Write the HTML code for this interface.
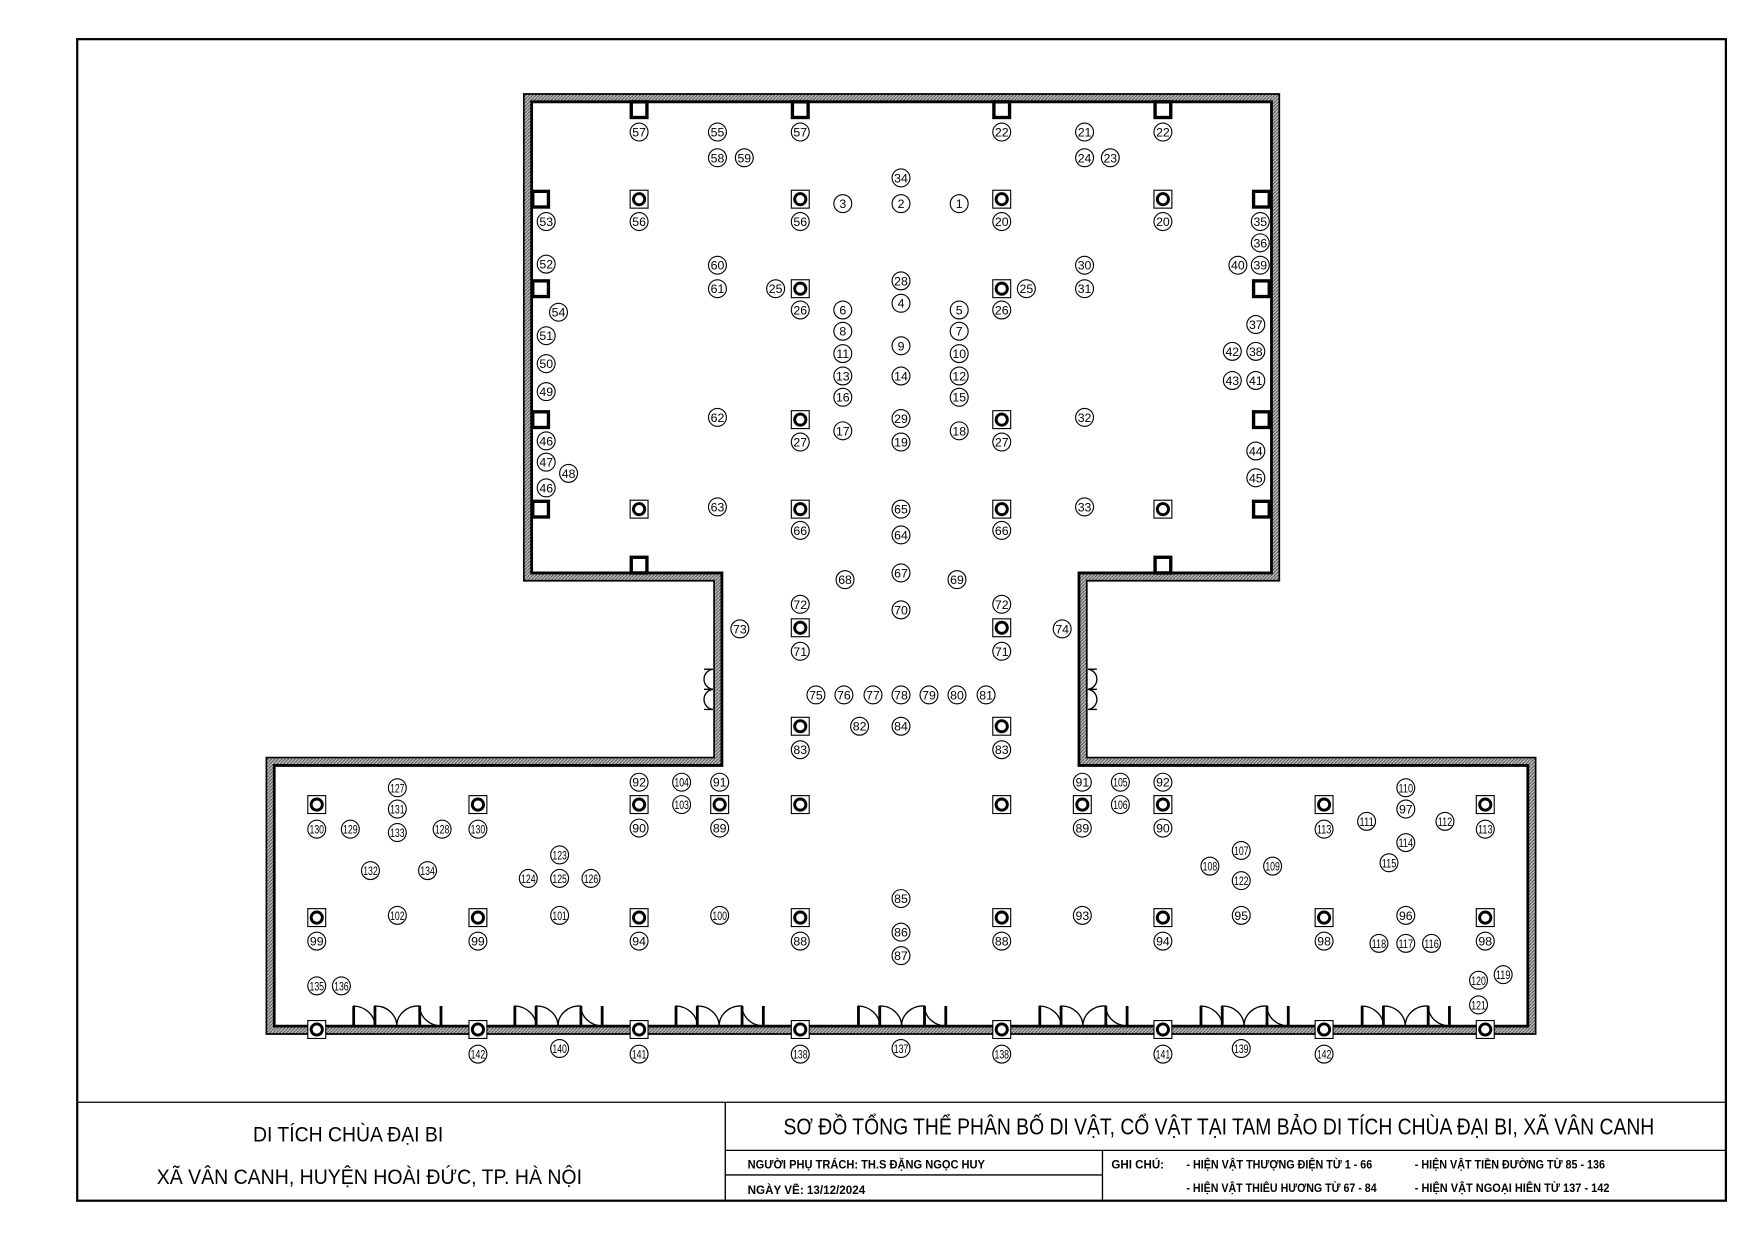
<!DOCTYPE html>
<html><head><meta charset="utf-8"><style>
html,body{margin:0;padding:0;background:#fff}
svg{display:block}
.l circle{fill:#fff;stroke:#000;stroke-width:1}
.l text{font-family:"Liberation Sans",sans-serif;font-size:11px;text-anchor:middle;fill:#000}
.t{font-family:"Liberation Sans",sans-serif;fill:#000}
</style></head><body>
<svg width="1755" height="1241" viewBox="0 0 1568 1109" preserveAspectRatio="none" xmlns="http://www.w3.org/2000/svg">
<defs>
<pattern id="h" width="3" height="3" patternUnits="userSpaceOnUse"><rect width="3" height="3" fill="#bbb"/><path d="M0 3L3 0" stroke="#444" stroke-width="0.8"/></pattern>
<g id="col"><rect x="-8" y="-8" width="16" height="16" fill="#fff" stroke="#000" stroke-width="1"/><circle r="5" fill="none" stroke="#000" stroke-width="2.6"/></g>
<g id="pil"><rect x="-7" y="-7" width="14" height="14" fill="#fff" stroke="#000" stroke-width="3"/></g>
<g id="door"><path d="M0 917V899 A20 18 0 0 1 19 917 M19 917V899 A19 18 0 0 1 38.5 917 A19 18 0 0 1 59 899V917 M59 899 A20 18 0 0 0 78 917 M78 899V917" fill="none" stroke="#000" stroke-width="1.2"/><path d="M0 899V917M19 899V917M59 899V917M78 899V917" stroke="#000" stroke-width="2.5"/></g>
</defs>
<rect x="0" y="0" width="1568" height="1109" fill="#fff"/>
<rect x="69" y="35" width="1473" height="1038" fill="none" stroke="#000" stroke-width="2"/>
<path d="M468 84H1143V519H971V677H1372V924H238V677H638V519H468Z" fill="url(#h)" stroke="#000" stroke-width="1.5"/>
<path d="M475 91H1136V512H964V684H1365V917H245V684H645V512H475Z" fill="#fff" stroke="#000" stroke-width="2.5"/>
<g fill="none" stroke="#000" stroke-width="1.2">
<path d="M629 598H637M629 616H637M629 634H637M637 598A9 9 0 0 0 629 607 M637 616A9 9 0 0 1 629 607 M637 616A9 9 0 0 0 629 625 M637 634A9 9 0 0 1 629 625"/>
<path d="M972 598H980M972 616H980M972 634H980M972 598A9 9 0 0 1 980 607 M972 616A9 9 0 0 0 980 607 M972 616A9 9 0 0 1 980 625 M972 634A9 9 0 0 0 980 625"/>
</g>
<use href="#door" x="316"/><use href="#door" x="460"/><use href="#door" x="604"/><use href="#door" x="767"/><use href="#door" x="929"/><use href="#door" x="1073"/><use href="#door" x="1217"/>
<use href="#pil" x="571" y="98"/><use href="#pil" x="715" y="98"/><use href="#pil" x="895" y="98"/><use href="#pil" x="1039" y="98"/>
<use href="#pil" x="483" y="178"/><use href="#pil" x="483" y="258"/><use href="#pil" x="483" y="375"/><use href="#pil" x="483" y="455"/>
<use href="#pil" x="1127" y="178"/><use href="#pil" x="1127" y="258"/><use href="#pil" x="1127" y="375"/><use href="#pil" x="1127" y="455"/>
<use href="#pil" x="571" y="505"/><use href="#pil" x="1039" y="505"/>
<use href="#col" x="571" y="178"/><use href="#col" x="715" y="178"/><use href="#col" x="895" y="178"/><use href="#col" x="1039" y="178"/>
<use href="#col" x="715" y="258"/><use href="#col" x="895" y="258"/><use href="#col" x="715" y="375"/><use href="#col" x="895" y="375"/>
<use href="#col" x="571" y="455"/><use href="#col" x="715" y="455"/><use href="#col" x="895" y="455"/><use href="#col" x="1039" y="455"/>
<use href="#col" x="715" y="561"/><use href="#col" x="895" y="561"/><use href="#col" x="715" y="649"/><use href="#col" x="895" y="649"/>
<use href="#col" x="283" y="719"/><use href="#col" x="427" y="719"/><use href="#col" x="571" y="719"/><use href="#col" x="643" y="719"/><use href="#col" x="715" y="719"/><use href="#col" x="895" y="719"/><use href="#col" x="967" y="719"/><use href="#col" x="1039" y="719"/><use href="#col" x="1183" y="719"/><use href="#col" x="1327" y="719"/>
<use href="#col" x="283" y="820"/><use href="#col" x="427" y="820"/><use href="#col" x="571" y="820"/><use href="#col" x="715" y="820"/><use href="#col" x="895" y="820"/><use href="#col" x="1039" y="820"/><use href="#col" x="1183" y="820"/><use href="#col" x="1327" y="820"/>
<use href="#col" x="283" y="920"/><use href="#col" x="427" y="920"/><use href="#col" x="571" y="920"/><use href="#col" x="715" y="920"/><use href="#col" x="895" y="920"/><use href="#col" x="1039" y="920"/><use href="#col" x="1183" y="920"/><use href="#col" x="1327" y="920"/>
<g class="l">
<g transform="translate(571,118)"><circle r="8"/><text y="4">57</text></g>
<g transform="translate(715,118)"><circle r="8"/><text y="4">57</text></g>
<g transform="translate(895,118)"><circle r="8"/><text y="4">22</text></g>
<g transform="translate(1039,118)"><circle r="8"/><text y="4">22</text></g>
<g transform="translate(641,118)"><circle r="8"/><text y="4">55</text></g>
<g transform="translate(641,141)"><circle r="8"/><text y="4">58</text></g>
<g transform="translate(665,141)"><circle r="8"/><text y="4">59</text></g>
<g transform="translate(969,118)"><circle r="8"/><text y="4">21</text></g>
<g transform="translate(969,141)"><circle r="8"/><text y="4">24</text></g>
<g transform="translate(992,141)"><circle r="8"/><text y="4">23</text></g>
<g transform="translate(805,159)"><circle r="8"/><text y="4">34</text></g>
<g transform="translate(753,182)"><circle r="8"/><text y="4">3</text></g>
<g transform="translate(805,182)"><circle r="8"/><text y="4">2</text></g>
<g transform="translate(857,182)"><circle r="8"/><text y="4">1</text></g>
<g transform="translate(488,198)"><circle r="8"/><text y="4">53</text></g>
<g transform="translate(571,198)"><circle r="8"/><text y="4">56</text></g>
<g transform="translate(715,198)"><circle r="8"/><text y="4">56</text></g>
<g transform="translate(895,198)"><circle r="8"/><text y="4">20</text></g>
<g transform="translate(1039,198)"><circle r="8"/><text y="4">20</text></g>
<g transform="translate(1126,198)"><circle r="8"/><text y="4">35</text></g>
<g transform="translate(1126,217)"><circle r="8"/><text y="4">36</text></g>
<g transform="translate(1106,237)"><circle r="8"/><text y="4">40</text></g>
<g transform="translate(1126,237)"><circle r="8"/><text y="4">39</text></g>
<g transform="translate(488,236)"><circle r="8"/><text y="4">52</text></g>
<g transform="translate(641,237)"><circle r="8"/><text y="4">60</text></g>
<g transform="translate(641,258)"><circle r="8"/><text y="4">61</text></g>
<g transform="translate(693,258)"><circle r="8"/><text y="4">25</text></g>
<g transform="translate(805,251)"><circle r="8"/><text y="4">28</text></g>
<g transform="translate(805,271)"><circle r="8"/><text y="4">4</text></g>
<g transform="translate(917,258)"><circle r="8"/><text y="4">25</text></g>
<g transform="translate(969,237)"><circle r="8"/><text y="4">30</text></g>
<g transform="translate(969,258)"><circle r="8"/><text y="4">31</text></g>
<g transform="translate(715,277)"><circle r="8"/><text y="4">26</text></g>
<g transform="translate(895,277)"><circle r="8"/><text y="4">26</text></g>
<g transform="translate(753,277)"><circle r="8"/><text y="4">6</text></g>
<g transform="translate(857,277)"><circle r="8"/><text y="4">5</text></g>
<g transform="translate(499,279)"><circle r="8"/><text y="4">54</text></g>
<g transform="translate(488,300)"><circle r="8"/><text y="4">51</text></g>
<g transform="translate(753,296)"><circle r="8"/><text y="4">8</text></g>
<g transform="translate(857,296)"><circle r="8"/><text y="4">7</text></g>
<g transform="translate(1122,290)"><circle r="8"/><text y="4">37</text></g>
<g transform="translate(805,309)"><circle r="8"/><text y="4">9</text></g>
<g transform="translate(753,316)"><circle r="8"/><text y="4">11</text></g>
<g transform="translate(857,316)"><circle r="8"/><text y="4">10</text></g>
<g transform="translate(1101,314)"><circle r="8"/><text y="4">42</text></g>
<g transform="translate(1122,314)"><circle r="8"/><text y="4">38</text></g>
<g transform="translate(488,325)"><circle r="8"/><text y="4">50</text></g>
<g transform="translate(753,336)"><circle r="8"/><text y="4">13</text></g>
<g transform="translate(805,336)"><circle r="8"/><text y="4">14</text></g>
<g transform="translate(857,336)"><circle r="8"/><text y="4">12</text></g>
<g transform="translate(1101,340)"><circle r="8"/><text y="4">43</text></g>
<g transform="translate(1122,340)"><circle r="8"/><text y="4">41</text></g>
<g transform="translate(488,350)"><circle r="8"/><text y="4">49</text></g>
<g transform="translate(753,355)"><circle r="8"/><text y="4">16</text></g>
<g transform="translate(857,355)"><circle r="8"/><text y="4">15</text></g>
<g transform="translate(641,373)"><circle r="8"/><text y="4">62</text></g>
<g transform="translate(805,374)"><circle r="8"/><text y="4">29</text></g>
<g transform="translate(969,373)"><circle r="8"/><text y="4">32</text></g>
<g transform="translate(753,385)"><circle r="8"/><text y="4">17</text></g>
<g transform="translate(857,385)"><circle r="8"/><text y="4">18</text></g>
<g transform="translate(715,395)"><circle r="8"/><text y="4">27</text></g>
<g transform="translate(895,395)"><circle r="8"/><text y="4">27</text></g>
<g transform="translate(805,395)"><circle r="8"/><text y="4">19</text></g>
<g transform="translate(488,394)"><circle r="8"/><text y="4">46</text></g>
<g transform="translate(488,413)"><circle r="8"/><text y="4">47</text></g>
<g transform="translate(508,423)"><circle r="8"/><text y="4">48</text></g>
<g transform="translate(488,436)"><circle r="8"/><text y="4">46</text></g>
<g transform="translate(1122,403)"><circle r="8"/><text y="4">44</text></g>
<g transform="translate(1122,427)"><circle r="8"/><text y="4">45</text></g>
<g transform="translate(641,453)"><circle r="8"/><text y="4">63</text></g>
<g transform="translate(805,455)"><circle r="8"/><text y="4">65</text></g>
<g transform="translate(969,453)"><circle r="8"/><text y="4">33</text></g>
<g transform="translate(715,474)"><circle r="8"/><text y="4">66</text></g>
<g transform="translate(895,474)"><circle r="8"/><text y="4">66</text></g>
<g transform="translate(805,478)"><circle r="8"/><text y="4">64</text></g>
<g transform="translate(805,512)"><circle r="8"/><text y="4">67</text></g>
<g transform="translate(755,518)"><circle r="8"/><text y="4">68</text></g>
<g transform="translate(855,518)"><circle r="8"/><text y="4">69</text></g>
<g transform="translate(715,540)"><circle r="8"/><text y="4">72</text></g>
<g transform="translate(895,540)"><circle r="8"/><text y="4">72</text></g>
<g transform="translate(805,545)"><circle r="8"/><text y="4">70</text></g>
<g transform="translate(661,562)"><circle r="8"/><text y="4">73</text></g>
<g transform="translate(949,562)"><circle r="8"/><text y="4">74</text></g>
<g transform="translate(715,582)"><circle r="8"/><text y="4">71</text></g>
<g transform="translate(895,582)"><circle r="8"/><text y="4">71</text></g>
<g transform="translate(729,621)"><circle r="8"/><text y="4">75</text></g>
<g transform="translate(754,621)"><circle r="8"/><text y="4">76</text></g>
<g transform="translate(780,621)"><circle r="8"/><text y="4">77</text></g>
<g transform="translate(805,621)"><circle r="8"/><text y="4">78</text></g>
<g transform="translate(830,621)"><circle r="8"/><text y="4">79</text></g>
<g transform="translate(855,621)"><circle r="8"/><text y="4">80</text></g>
<g transform="translate(881,621)"><circle r="8"/><text y="4">81</text></g>
<g transform="translate(768,649)"><circle r="8"/><text y="4">82</text></g>
<g transform="translate(805,649)"><circle r="8"/><text y="4">84</text></g>
<g transform="translate(715,670)"><circle r="8"/><text y="4">83</text></g>
<g transform="translate(895,670)"><circle r="8"/><text y="4">83</text></g>
<g transform="translate(571,699)"><circle r="8"/><text y="4">92</text></g>
<g transform="translate(643,699)"><circle r="8"/><text y="4">91</text></g>
<g transform="translate(571,740)"><circle r="8"/><text y="4">90</text></g>
<g transform="translate(643,740)"><circle r="8"/><text y="4">89</text></g>
<g transform="translate(967,699)"><circle r="8"/><text y="4">91</text></g>
<g transform="translate(1039,699)"><circle r="8"/><text y="4">92</text></g>
<g transform="translate(967,740)"><circle r="8"/><text y="4">89</text></g>
<g transform="translate(1039,740)"><circle r="8"/><text y="4">90</text></g>
<g transform="translate(1256,723)"><circle r="8"/><text y="4">97</text></g>
<g transform="translate(805,803)"><circle r="8"/><text y="4">85</text></g>
<g transform="translate(967,818)"><circle r="8"/><text y="4">93</text></g>
<g transform="translate(1109,818)"><circle r="8"/><text y="4">95</text></g>
<g transform="translate(1256,818)"><circle r="8"/><text y="4">96</text></g>
<g transform="translate(283,841)"><circle r="8"/><text y="4">99</text></g>
<g transform="translate(427,841)"><circle r="8"/><text y="4">99</text></g>
<g transform="translate(571,841)"><circle r="8"/><text y="4">94</text></g>
<g transform="translate(715,841)"><circle r="8"/><text y="4">88</text></g>
<g transform="translate(805,833)"><circle r="8"/><text y="4">86</text></g>
<g transform="translate(805,854)"><circle r="8"/><text y="4">87</text></g>
<g transform="translate(895,841)"><circle r="8"/><text y="4">88</text></g>
<g transform="translate(1039,841)"><circle r="8"/><text y="4">94</text></g>
<g transform="translate(1183,841)"><circle r="8"/><text y="4">98</text></g>
<g transform="translate(1327,841)"><circle r="8"/><text y="4">98</text></g>
</g>
<g class="l">
<g transform="translate(355,704)"><circle r="8"/><text y="4" textLength="13" lengthAdjust="spacingAndGlyphs">127</text></g>
<g transform="translate(355,723)"><circle r="8"/><text y="4" textLength="13" lengthAdjust="spacingAndGlyphs">131</text></g>
<g transform="translate(355,744)"><circle r="8"/><text y="4" textLength="13" lengthAdjust="spacingAndGlyphs">133</text></g>
<g transform="translate(283,741)"><circle r="8"/><text y="4" textLength="13" lengthAdjust="spacingAndGlyphs">130</text></g>
<g transform="translate(313,741)"><circle r="8"/><text y="4" textLength="13" lengthAdjust="spacingAndGlyphs">129</text></g>
<g transform="translate(395,741)"><circle r="8"/><text y="4" textLength="13" lengthAdjust="spacingAndGlyphs">128</text></g>
<g transform="translate(427,741)"><circle r="8"/><text y="4" textLength="13" lengthAdjust="spacingAndGlyphs">130</text></g>
<g transform="translate(609,699)"><circle r="8"/><text y="4" textLength="13" lengthAdjust="spacingAndGlyphs">104</text></g>
<g transform="translate(609,719)"><circle r="8"/><text y="4" textLength="13" lengthAdjust="spacingAndGlyphs">103</text></g>
<g transform="translate(1001,699)"><circle r="8"/><text y="4" textLength="13" lengthAdjust="spacingAndGlyphs">105</text></g>
<g transform="translate(1001,719)"><circle r="8"/><text y="4" textLength="13" lengthAdjust="spacingAndGlyphs">106</text></g>
<g transform="translate(1256,704)"><circle r="8"/><text y="4" textLength="13" lengthAdjust="spacingAndGlyphs">110</text></g>
<g transform="translate(1221,734)"><circle r="8"/><text y="4" textLength="13" lengthAdjust="spacingAndGlyphs">111</text></g>
<g transform="translate(1291,734)"><circle r="8"/><text y="4" textLength="13" lengthAdjust="spacingAndGlyphs">112</text></g>
<g transform="translate(1183,741)"><circle r="8"/><text y="4" textLength="13" lengthAdjust="spacingAndGlyphs">113</text></g>
<g transform="translate(1327,741)"><circle r="8"/><text y="4" textLength="13" lengthAdjust="spacingAndGlyphs">113</text></g>
<g transform="translate(1256,753)"><circle r="8"/><text y="4" textLength="13" lengthAdjust="spacingAndGlyphs">114</text></g>
<g transform="translate(1241,771)"><circle r="8"/><text y="4" textLength="13" lengthAdjust="spacingAndGlyphs">115</text></g>
<g transform="translate(500,764)"><circle r="8"/><text y="4" textLength="13" lengthAdjust="spacingAndGlyphs">123</text></g>
<g transform="translate(331,778)"><circle r="8"/><text y="4" textLength="13" lengthAdjust="spacingAndGlyphs">132</text></g>
<g transform="translate(382,778)"><circle r="8"/><text y="4" textLength="13" lengthAdjust="spacingAndGlyphs">134</text></g>
<g transform="translate(472,785)"><circle r="8"/><text y="4" textLength="13" lengthAdjust="spacingAndGlyphs">124</text></g>
<g transform="translate(500,785)"><circle r="8"/><text y="4" textLength="13" lengthAdjust="spacingAndGlyphs">125</text></g>
<g transform="translate(528,785)"><circle r="8"/><text y="4" textLength="13" lengthAdjust="spacingAndGlyphs">126</text></g>
<g transform="translate(1109,760)"><circle r="8"/><text y="4" textLength="13" lengthAdjust="spacingAndGlyphs">107</text></g>
<g transform="translate(1081,774)"><circle r="8"/><text y="4" textLength="13" lengthAdjust="spacingAndGlyphs">108</text></g>
<g transform="translate(1137,774)"><circle r="8"/><text y="4" textLength="13" lengthAdjust="spacingAndGlyphs">109</text></g>
<g transform="translate(1109,787)"><circle r="8"/><text y="4" textLength="13" lengthAdjust="spacingAndGlyphs">122</text></g>
<g transform="translate(355,818)"><circle r="8"/><text y="4" textLength="13" lengthAdjust="spacingAndGlyphs">102</text></g>
<g transform="translate(500,818)"><circle r="8"/><text y="4" textLength="13" lengthAdjust="spacingAndGlyphs">101</text></g>
<g transform="translate(643,818)"><circle r="8"/><text y="4" textLength="13" lengthAdjust="spacingAndGlyphs">100</text></g>
<g transform="translate(1232,843)"><circle r="8"/><text y="4" textLength="13" lengthAdjust="spacingAndGlyphs">118</text></g>
<g transform="translate(1256,843)"><circle r="8"/><text y="4" textLength="13" lengthAdjust="spacingAndGlyphs">117</text></g>
<g transform="translate(1279,843)"><circle r="8"/><text y="4" textLength="13" lengthAdjust="spacingAndGlyphs">116</text></g>
<g transform="translate(1343,871)"><circle r="8"/><text y="4" textLength="13" lengthAdjust="spacingAndGlyphs">119</text></g>
<g transform="translate(1321,876)"><circle r="8"/><text y="4" textLength="13" lengthAdjust="spacingAndGlyphs">120</text></g>
<g transform="translate(1321,898)"><circle r="8"/><text y="4" textLength="13" lengthAdjust="spacingAndGlyphs">121</text></g>
<g transform="translate(283,881)"><circle r="8"/><text y="4" textLength="13" lengthAdjust="spacingAndGlyphs">135</text></g>
<g transform="translate(305,881)"><circle r="8"/><text y="4" textLength="13" lengthAdjust="spacingAndGlyphs">136</text></g>
<g transform="translate(427,942)"><circle r="8"/><text y="4" textLength="13" lengthAdjust="spacingAndGlyphs">142</text></g>
<g transform="translate(500,937)"><circle r="8"/><text y="4" textLength="13" lengthAdjust="spacingAndGlyphs">140</text></g>
<g transform="translate(571,942)"><circle r="8"/><text y="4" textLength="13" lengthAdjust="spacingAndGlyphs">141</text></g>
<g transform="translate(715,942)"><circle r="8"/><text y="4" textLength="13" lengthAdjust="spacingAndGlyphs">138</text></g>
<g transform="translate(805,937)"><circle r="8"/><text y="4" textLength="13" lengthAdjust="spacingAndGlyphs">137</text></g>
<g transform="translate(895,942)"><circle r="8"/><text y="4" textLength="13" lengthAdjust="spacingAndGlyphs">138</text></g>
<g transform="translate(1039,942)"><circle r="8"/><text y="4" textLength="13" lengthAdjust="spacingAndGlyphs">141</text></g>
<g transform="translate(1109,937)"><circle r="8"/><text y="4" textLength="13" lengthAdjust="spacingAndGlyphs">139</text></g>
<g transform="translate(1183,942)"><circle r="8"/><text y="4" textLength="13" lengthAdjust="spacingAndGlyphs">142</text></g>
</g>
<g stroke="#000" stroke-width="1.2" fill="none">
<path d="M69 985H1542M648 985V1073M648 1028H1542M985 1028V1073M648 1050H985"/>
</g>
<text class="t" x="311" y="1020" font-size="19" text-anchor="middle" textLength="170" lengthAdjust="spacingAndGlyphs">DI TÍCH CHÙA ĐẠI BI</text>
<text class="t" x="330" y="1058" font-size="19" text-anchor="middle" textLength="380" lengthAdjust="spacingAndGlyphs">XÃ VÂN CANH, HUYỆN HOÀI ĐỨC, TP. HÀ NỘI</text>
<text class="t" x="700" y="1014" font-size="21" textLength="778" lengthAdjust="spacingAndGlyphs">SƠ ĐỒ TỔNG THỂ PHÂN BỐ DI VẬT, CỔ VẬT TẠI TAM BẢO DI TÍCH CHÙA ĐẠI BI, XÃ VÂN CANH</text>
<text class="t" x="668" y="1044" font-size="11" font-weight="bold" textLength="212" lengthAdjust="spacingAndGlyphs">NGƯỜI PHỤ TRÁCH: TH.S ĐẶNG NGỌC HUY</text>
<text class="t" x="668" y="1067" font-size="11" font-weight="bold" textLength="105" lengthAdjust="spacingAndGlyphs">NGÀY VẼ: 13/12/2024</text>
<text class="t" x="993" y="1044" font-size="11" font-weight="bold" textLength="47" lengthAdjust="spacingAndGlyphs">GHI CHÚ:</text>
<text class="t" x="1060" y="1044" font-size="11" font-weight="bold" textLength="166" lengthAdjust="spacingAndGlyphs">- HIỆN VẬT THƯỢNG ĐIỆN TỪ 1 - 66</text>
<text class="t" x="1060" y="1065" font-size="11" font-weight="bold" textLength="170" lengthAdjust="spacingAndGlyphs">- HIỆN VẬT THIÊU HƯƠNG TỪ 67 - 84</text>
<text class="t" x="1264" y="1044" font-size="11" font-weight="bold" textLength="170" lengthAdjust="spacingAndGlyphs">- HIỆN VẬT TIỀN ĐƯỜNG TỪ 85 - 136</text>
<text class="t" x="1264" y="1065" font-size="11" font-weight="bold" textLength="174" lengthAdjust="spacingAndGlyphs">- HIỆN VẬT NGOẠI HIÊN TỪ 137 - 142</text>
</svg>
</body></html>
